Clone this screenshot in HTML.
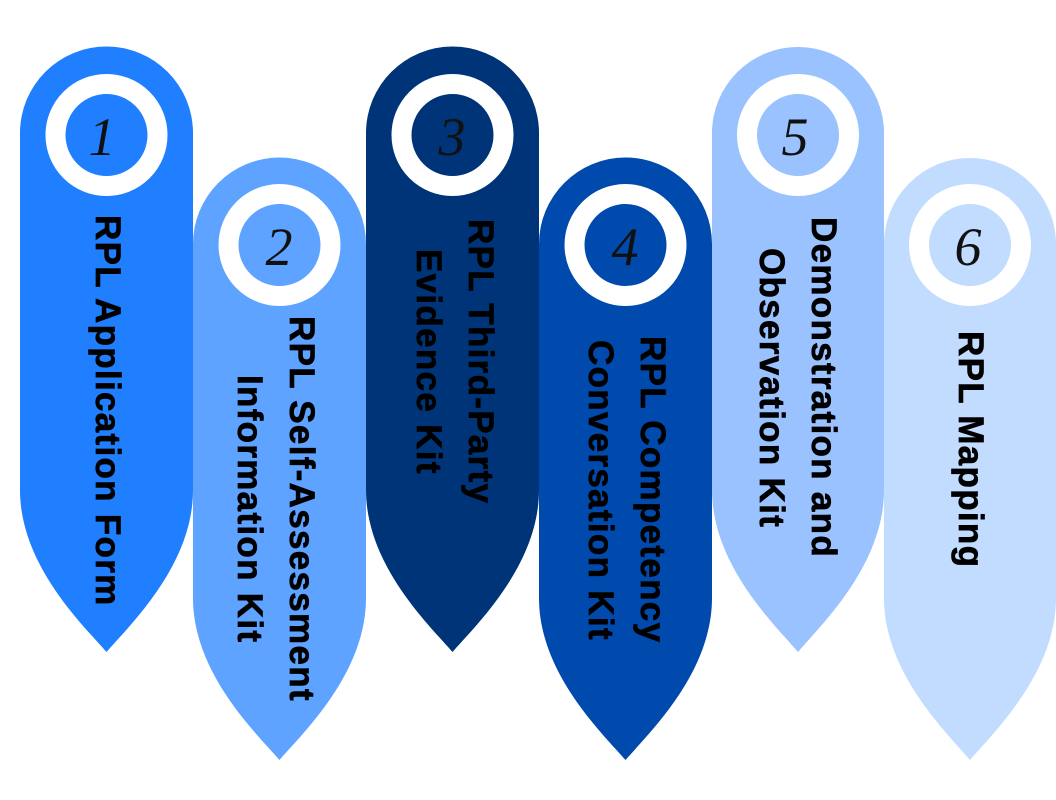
<!DOCTYPE html>
<html><head><style>
body{margin:0;width:1056px;height:800px;background:#fff;position:relative;overflow:hidden;font-family:"Liberation Sans",sans-serif}
svg{position:absolute;left:0;top:0}
.t{position:absolute;writing-mode:vertical-rl;font-weight:900;font-size:35px;line-height:52px;color:#000;white-space:nowrap;letter-spacing:1.3px;-webkit-text-stroke:0.7px #000;height:500px;text-align:center}
</style></head><body>
<svg width="1056" height="800">
<g>
<path d="M20,133 A86.5,86.5 0 0 1 193,133 L193,490 C193,565 130,625 106.5,652 C83,625 20,565 20,490 Z" fill="#1f7fff"/>
<path d="M193,244 A86.5,86.5 0 0 1 366,244 L366,598 C366,673 303,733 279.5,760 C256,733 193,673 193,598 Z" fill="#5ea3ff"/>
<path d="M366,133 A86.5,86.5 0 0 1 539,133 L539,490 C539,565 476,625 452.5,652 C429,625 366,565 366,490 Z" fill="#003478"/>
<path d="M539,244 A86.5,86.5 0 0 1 712,244 L712,598 C712,673 649,733 625.5,760 C602,733 539,673 539,598 Z" fill="#004aad"/>
<path d="M712,133 A86,86 0 0 1 884,133 L884,490 C884,565 821,625 798,652 C775,625 712,565 712,490 Z" fill="#99c2ff"/>
<path d="M884,244 A86,86 0 0 1 1056,244 L1056,598 C1056,673 993,733 970,760 C947,733 884,673 884,598 Z" fill="#c2dcff"/>
</g>
<g fill="none" stroke="#fff" stroke-width="20">
<circle cx="106.5" cy="135" r="51"/>
<circle cx="279.5" cy="245" r="51"/>
<circle cx="452.5" cy="135" r="51"/>
<circle cx="625.5" cy="245" r="51"/>
<circle cx="798" cy="135" r="51"/>
<circle cx="970" cy="245" r="51"/>
</g>
<g font-family="Liberation Serif,serif" font-style="italic" font-size="54" fill="#111" text-anchor="middle">
<text x="102" y="155">1</text>
<text x="279" y="265">2</text>
<text x="452" y="155">3</text>
<text x="625" y="265">4</text>
<text x="795" y="155">5</text>
<text x="968" y="265">6</text>
</g>
</svg>
<div class="t" style="left:81px;top:161px">RPL Application Form</div>
<div class="t" style="left:223px;top:259px">RPL Self-Assessment<br>Information Kit</div>
<div class="t" style="left:402px;top:112px">RPL Third-Party<br>Evidence Kit</div>
<div class="t" style="left:574px;top:240px">RPL Competency<br>Conversation Kit</div>
<div class="t" style="left:745px;top:138px">Demonstration and<br>Observation Kit</div>
<div class="t" style="left:944px;top:200px">RPL Mapping</div>
</body></html>
